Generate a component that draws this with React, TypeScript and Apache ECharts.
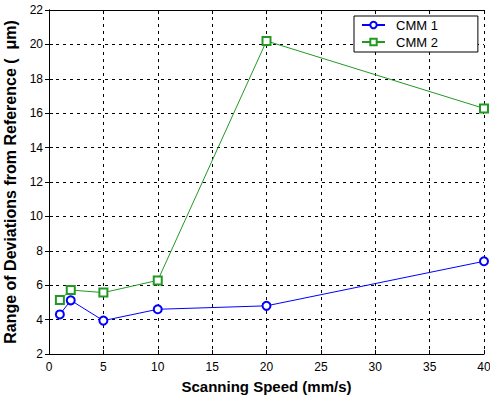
import React, { useEffect, useRef } from "react";
import * as echarts from "echarts";

const speeds = [1, 2, 5, 10, 20, 40];
const cmm1 = [4.3, 5.12, 3.94, 4.6, 4.8, 7.39];
const cmm2 = [5.14, 5.72, 5.57, 6.28, 20.2, 16.28];
const seriesNames = ["CMM 1", "CMM 2"];
const xTitle = "Scanning Speed (mm/s)";
const yTitle = "Range of Deviations from Reference (  μm)";

export default function App() {
  const ref = useRef<HTMLDivElement>(null);
  useEffect(() => {
    if (!ref.current) return;
    const chart = echarts.init(ref.current, undefined, { renderer: "svg" });
    const font = "Arial, 'Liberation Sans', sans-serif";
    const grid = { left: 49, top: 10, width: 435, height: 344, outerBoundsMode: "none" };
    const axisCommon = {
      axisLine: { show: true, lineStyle: { color: "#000", width: 1 } },
      axisTick: { show: true, inside: true, length: 4, lineStyle: { color: "#000" } },
      splitLine: { show: false },
    };
    const green = "#229922";
    chart.setOption({
      animation: false,
      backgroundColor: "#fff",
      grid,
      legend: {
        orient: "vertical",
        left: 354,
        top: 16,
        padding: [2, 40, 3, 7],
        backgroundColor: "#fff",
        borderColor: "#000",
        borderWidth: 1,
        borderRadius: 0,
        itemWidth: 23,
        itemHeight: 8,
        itemGap: 3,
        z: 10,
        textStyle: { fontFamily: font, fontSize: 13, lineHeight: 14, color: "#000", padding: [0, 0, 0, 6] },
        data: seriesNames,
      },
      xAxis: [
        {
          type: "value",
          min: 0,
          max: 40,
          interval: 5,
          name: xTitle,
          nameLocation: "middle",
          nameGap: 25,
          nameTextStyle: { fontFamily: font, fontSize: 15, fontWeight: "bold", color: "#000" },
          ...axisCommon,
          splitLine: { show: true, lineStyle: { color: "#000", type: [3, 4], width: 1 } },
          axisLabel: { fontFamily: font, fontSize: 12, color: "#000", margin: 7 },
        },
        {
          type: "value",
          position: "top",
          min: 0,
          max: 40,
          interval: 5,
          ...axisCommon,
          axisLabel: { show: false },
        },
      ],
      yAxis: [
        {
          type: "value",
          min: 2,
          max: 22,
          interval: 2,
          name: yTitle,
          nameLocation: "middle",
          nameGap: 30,
          nameRotate: 90,
          nameTextStyle: { fontFamily: font, fontSize: 16, fontWeight: "bold", color: "#000" },
          ...axisCommon,
          splitLine: { show: true, lineStyle: { color: "#000", type: [3, 4], width: 1 } },
          axisLabel: { fontFamily: font, fontSize: 12, color: "#000", margin: 6 },
        },
        {
          type: "value",
          position: "right",
          min: 2,
          max: 22,
          interval: 2,
          ...axisCommon,
          axisLabel: { show: false },
        },
      ],
      series: [
        {
          name: seriesNames[0],
          type: "line",
          data: speeds.map((s, i) => [s, cmm1[i]]),
          symbol: "emptyCircle",
          symbolSize: 8,
          lineStyle: { color: "#0000ff", width: 1 },
          itemStyle: { color: "#0000ff", borderColor: "#0000ff", borderWidth: 1 },
        },
        {
          name: seriesNames[1],
          type: "line",
          data: speeds.map((s, i) => [s, cmm2[i]]),
          symbol: "emptyRect",
          symbolSize: 8,
          lineStyle: { color: green, width: 1 },
          itemStyle: { color: green, borderColor: green, borderWidth: 1 },
        },
      ],
    });
    return () => chart.dispose();
  }, []);
  return (
    <div
      ref={ref}
      style={{ position: "fixed", left: 0, top: 0, width: 490, height: 398 }}
    />
  );
}
